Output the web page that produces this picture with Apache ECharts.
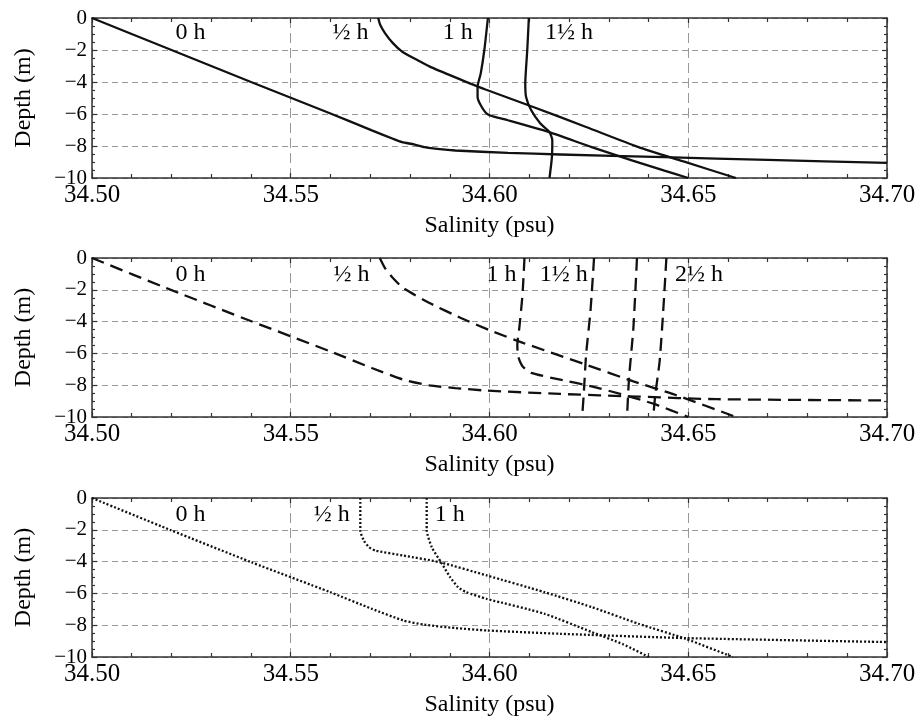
<!DOCTYPE html>
<html>
<head>
<meta charset="utf-8">
<script src="https://cdn.jsdelivr.net/npm/echarts@6/dist/echarts.min.js"></script>
<style>
  html, body { margin: 0; padding: 0; background: #fff; }
  #main { width: 921px; height: 726px; }
</style>
</head>
<body>
<div id="main"></div>
<script>
// salinity (psu) vs depth (m)
// panel 1 - solid
const solid0h = [[34.500, 0], [34.520, -2], [34.540, -4], [34.560, -5.97], [34.5704, -7.02], [34.5757, -7.55],
  [34.578, -7.76], [34.581, -7.9], [34.5836, -8.07], [34.5875, -8.2], [34.5914, -8.28], [34.6046, -8.43],
  [34.6178, -8.53], [34.644, -8.70], [34.670, -8.87], [34.700, -9.05]];
const solidHalf = [[34.572, 0], [34.5725, -0.42], [34.5737, -0.94], [34.5757, -1.57], [34.578, -2.1], [34.581, -2.52],
  [34.585, -3.04], [34.5914, -3.71], [34.599, -4.47], [34.611, -5.56], [34.6243, -6.81], [34.6375, -8.07],
  [34.6486, -8.95], [34.662, -10]];
const solid1h = [[34.5996, 0], [34.5987, -2], [34.5978, -3.46], [34.597, -4.3], [34.597, -4.93], [34.5978, -5.45],
  [34.5993, -5.97], [34.6013, -6.18], [34.6046, -6.39], [34.615, -7.13], [34.6257, -8.07], [34.636, -8.91],
  [34.644, -9.54], [34.650, -10]];
const solid1Half = [[34.6099, 0], [34.6095, -2], [34.609, -4.09], [34.6092, -4.93], [34.6105, -5.77], [34.6128, -6.6],
  [34.6151, -7.13], [34.6158, -7.65], [34.6157, -8.7], [34.6151, -10]];

// panel 2 - dashed
const dash0h = [[34.500, 0], [34.5197, -1.99], [34.5401, -3.98], [34.5599, -5.87], [34.5704, -6.92], [34.5783, -7.65],
  [34.5849, -8.01], [34.5914, -8.18], [34.5993, -8.34], [34.6178, -8.55], [34.6375, -8.72], [34.6572, -8.88],
  [34.700, -8.96]];
const dashHalf = [[34.5724, 0], [34.5737, -0.63], [34.5757, -1.26], [34.5783, -1.89], [34.5849, -2.83], [34.5928, -3.77],
  [34.6007, -4.61], [34.6086, -5.35], [34.6243, -6.71], [34.6362, -7.76], [34.6467, -8.6], [34.662, -10]];
const dash1h = [[34.6088, 0], [34.6083, -2.31], [34.6075, -4.4], [34.607, -5.45], [34.6072, -6.18], [34.6083, -6.81],
  [34.6105, -7.23], [34.6178, -7.65], [34.6257, -8.07], [34.6336, -8.6], [34.6414, -9.18], [34.650, -10]];
const dash1Half = [[34.6263, 0], [34.6254, -3.35], [34.6243, -6.08], [34.6237, -8.6], [34.6233, -10]];
const dash2h = [[34.6371, 0], [34.6362, -4.4], [34.6351, -7.55], [34.6346, -10]];
const dash2Half = [[34.6445, 0], [34.6437, -3.35], [34.6428, -6.5], [34.6417, -8.6], [34.6412, -10]];

// panel 3 - dotted
const dot0h = [[34.500, 0], [34.5197, -2.01], [34.5401, -4.04], [34.5599, -5.92], [34.5704, -6.97], [34.5783, -7.7],
  [34.5836, -7.97], [34.5914, -8.18], [34.5993, -8.33], [34.6178, -8.54], [34.6493, -8.81], [34.700, -9.06]];
const dotHalf = [[34.5675, 0], [34.5675, -2.05], [34.5684, -2.68], [34.5697, -3.1], [34.5714, -3.31], [34.5783, -3.62],
  [34.5875, -4.04], [34.5993, -4.87], [34.6138, -5.92], [34.6257, -6.86], [34.6375, -7.91], [34.6493, -8.85],
  [34.6612, -10]];
const dot1h = [[34.5842, 0], [34.5842, -2.01], [34.5855, -3.1], [34.5878, -4.04], [34.5901, -4.98], [34.5921, -5.61],
  [34.5941, -5.92], [34.5993, -6.34], [34.6138, -7.28], [34.6257, -8.43], [34.6336, -9.2], [34.6401, -10]];

// time labels inside each panel
const labels1 = ['0 h', '½ h', '1 h', '1½ h'];
const labelX1 = [34.5248, 34.565, 34.592, 34.620];
const labels2 = ['0 h', '½ h', '1 h', '1½ h', '2½ h'];
const labelX2 = [34.5248, 34.5653, 34.603, 34.6187, 34.6527];
const labels3 = ['0 h', '½ h', '1 h'];
const labelX3 = [34.5248, 34.5603, 34.590];
const labelDepth = [-0.95, -1.07, -1.07];

const xTicks = [34.50, 34.55, 34.60, 34.65, 34.70];
const yTicks = [0, -2, -4, -6, -8, -10];

const FONT = '"Liberation Serif", "DejaVu Serif", serif';
const FRAME = '#333';

const panels = [
  { top: 18, height: 160, curves: [solid0h, solidHalf, solid1h, solid1Half], dash: 'solid',
    labels: labels1, labelX: labelX1 },
  { top: 258, height: 159, curves: [dash0h, dashHalf, dash1h, dash1Half, dash2h, dash2Half], dash: [13, 7],
    labels: labels2, labelX: labelX2 },
  { top: 498, height: 159, curves: [dot0h, dotHalf, dot1h], dash: [2, 2],
    labels: labels3, labelX: labelX3 }
];

const grid = [], xAxis = [], yAxis = [], series = [];

panels.forEach(function (p, i) {
  grid.push({ left: 92, top: p.top, width: 795, height: p.height });

  const tickStyle = { color: FRAME, width: 1.2 };
  const lineStyle = { color: FRAME, width: 1.5 };

  // bottom axis with labels
  xAxis.push({
    gridIndex: i, type: 'value', position: 'bottom',
    min: xTicks[0], max: xTicks[xTicks.length - 1], interval: 0.05,
    axisLine: { show: true, onZero: false, lineStyle: lineStyle },
    axisTick: { show: true, inside: true, length: 5, lineStyle: tickStyle },
    minorTick: { show: true, splitNumber: 5, length: 4, lineStyle: tickStyle },
    splitLine: { show: true, lineStyle: { color: '#999', width: 1, type: [10, 5] } },
    axisLabel: { margin: 5, fontSize: 25, color: '#000', fontFamily: FONT,
      formatter: function (v) { return v.toFixed(2); } },
    name: 'Salinity (psu)', nameLocation: 'middle', nameGap: 36,
    nameTextStyle: { fontSize: 24, color: '#000', fontFamily: FONT }
  });
  // top frame
  xAxis.push({
    gridIndex: i, type: 'value', position: 'top',
    min: xTicks[0], max: xTicks[xTicks.length - 1], interval: 0.05,
    axisLine: { show: true, onZero: false, lineStyle: lineStyle },
    axisTick: { show: true, inside: true, length: 5, lineStyle: tickStyle },
    minorTick: { show: true, splitNumber: 5, length: 4, lineStyle: tickStyle },
    splitLine: { show: false }, axisLabel: { show: false }
  });

  yAxis.push({
    gridIndex: i, type: 'value', position: 'left',
    min: yTicks[yTicks.length - 1], max: yTicks[0], interval: 2,
    axisLine: { show: true, onZero: false, lineStyle: lineStyle },
    axisTick: { show: true, inside: true, length: 5, lineStyle: tickStyle },
    minorTick: { show: true, splitNumber: 4, length: 3, lineStyle: tickStyle },
    splitLine: { show: true, lineStyle: { color: '#999', width: 1, type: [6, 4] } },
    axisLabel: { margin: 5, fontSize: 21, color: '#000', fontFamily: FONT,
      formatter: function (v) { return v < 0 ? '\u2212' + (-v) : String(v); } },
    name: 'Depth (m)', nameLocation: 'middle', nameRotate: 90, nameGap: 56,
    nameTextStyle: { fontSize: 24, color: '#000', fontFamily: FONT }
  });
  yAxis.push({
    gridIndex: i, type: 'value', position: 'right',
    min: yTicks[yTicks.length - 1], max: yTicks[0], interval: 2,
    axisLine: { show: true, onZero: false, lineStyle: lineStyle },
    axisTick: { show: true, inside: true, length: 5, lineStyle: tickStyle },
    minorTick: { show: true, splitNumber: 4, length: 3, lineStyle: tickStyle },
    splitLine: { show: false }, axisLabel: { show: false }
  });

  p.curves.forEach(function (c) {
    series.push({
      type: 'line', xAxisIndex: i * 2, yAxisIndex: i * 2, data: c,
      symbol: 'none', smooth: 0.2, silent: true,
      lineStyle: { color: '#111', width: 2.3, type: p.dash, cap: 'butt' }
    });
  });

  series.push({
    type: 'scatter', xAxisIndex: i * 2, yAxisIndex: i * 2, symbolSize: 0, silent: true,
    itemStyle: { color: '#000', opacity: 1 },
    data: p.labels.map(function (t, k) { return [p.labelX[k], labelDepth[i], t]; }),
    label: { show: true, position: 'inside', color: '#000', fontSize: 24, fontFamily: FONT,
      textBorderWidth: 0, textBorderColor: 'transparent',
      formatter: function (q) { return q.data[2]; } }
  });
});

const chart = echarts.init(document.getElementById('main'), null, { renderer: 'canvas' });
chart.setOption({
  animation: false,
  backgroundColor: '#fff',
  grid: grid, xAxis: xAxis, yAxis: yAxis, series: series
});
</script>
</body>
</html>
